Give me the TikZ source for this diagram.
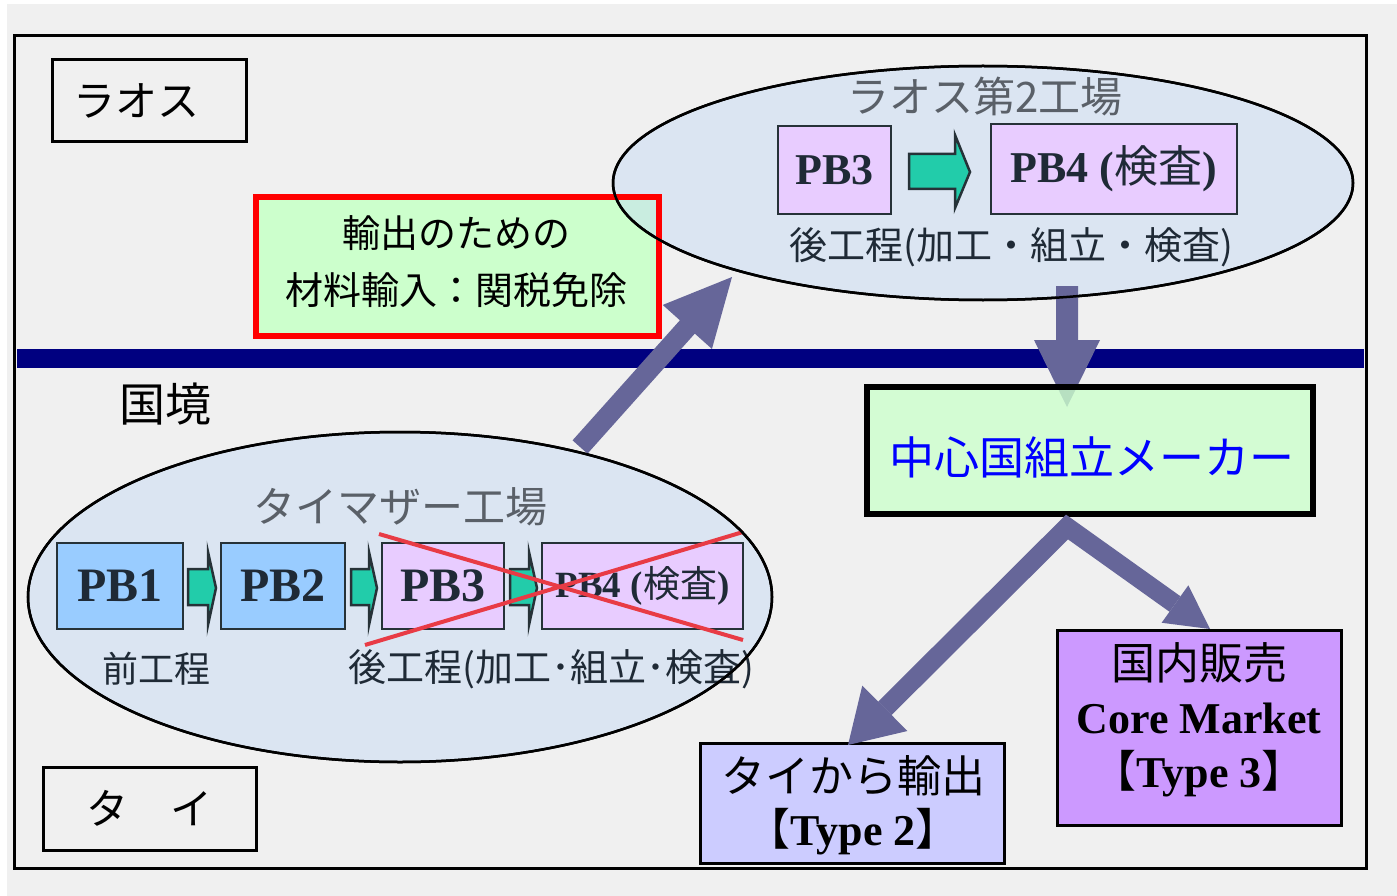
\documentclass[tikz,border=0pt]{standalone}
\usepackage{fontspec}
\setmainfont{Liberation Serif}
\newfontfamily\jp{Noto Sans CJK JP}
\usetikzlibrary{calc}
\definecolor{bgc}{HTML}{F0F0F0}
\definecolor{navyc}{HTML}{000080}
\definecolor{arrowc}{HTML}{666699}
\definecolor{tealc}{HTML}{22CCAA}
\definecolor{pbblue}{HTML}{99CCFF}
\definecolor{pbpurple}{HTML}{E8CCFF}
\definecolor{pbline}{HTML}{263238}
\definecolor{greenc}{HTML}{CCFFCC}
\definecolor{ellc}{HTML}{C8DCF4}
\definecolor{type2c}{HTML}{CCCCFF}
\definecolor{type3c}{HTML}{CC99FF}
\definecolor{redx}{HTML}{E83B45}
\definecolor{darktext}{HTML}{1F2A36}
\definecolor{graytext}{HTML}{5A6068}
\newcommand{\fs}[2]{\fontsize{#1pt}{#2pt}\selectfont}
% fat arrow: #1 start, #2 tip, #3 shaft half width, #4 head half width, #5 head length
\newcommand{\fatarrow}[5]{%
  \coordinate (fa-b) at ($(#2)!#5!(#1)$);
  \fill[arrowc] ($(#1)!#3!90:(#2)$) -- ($(fa-b)!#3!-90:(#1)$) -- ($(fa-b)!#4!-90:(#1)$) -- (#2)
     -- ($(fa-b)!#4!90:(#1)$) -- ($(fa-b)!#3!90:(#1)$) -- ($(#1)!#3!-90:(#2)$) -- cycle;}
\tikzset{
  frame/.style={draw=black, line width=3pt, inner sep=0pt},
  pbbox/.style={draw=pbline, line width=2.5pt, inner sep=0pt},
  tealarrow/.style={fill=tealc, draw=pbline, line width=2.5pt, line join=miter},
  pbtext/.style={text=darktext, font=\bfseries\fs{44}{44}},
  ellfill/.style={fill=ellc, fill opacity=0.5},
  ellline/.style={draw=black, line width=2.5pt},
}
\begin{document}
\begin{tikzpicture}[x=1pt,y=-1pt]
\useasboundingbox (0,0) rectangle (1397,896);
\fill[white] (0,0) rectangle (1397,896);
\fill[bgc] (7,4) rectangle (1397,896);
% outer frame
\node[frame, minimum width=1352pt, minimum height=832pt] (outer) at (690,452) {};
% border band
\fill[navyc] (17,349) rectangle (1364,368);
% country labels
\node[frame, minimum width=194pt, minimum height=82pt] (laosbox) at (149,101) {};
\node[font=\jp\fs{42}{42}] (laostext) at (136,101) {ラオス};
\node[frame, minimum width=213pt, minimum height=83pt] (thaibox) at (149.5,808.5) {};
\node[font=\jp\fs{42}{42}] (thaitext) at (149,808) {タ　イ};
\node[font=\jp\fs{46}{46}] (border) at (165,404) {国境};
% red box fill
\fill[greenc] (256,197) rectangle (659,336);
% ellipses
\fill[ellfill] (983,183) ellipse [x radius=370, y radius=117];
\fill[ellfill] (400,597) ellipse [x radius=372, y radius=165];
\draw[ellline] (983,183) ellipse [x radius=370, y radius=117];
\draw[ellline] (400,597) ellipse [x radius=372, y radius=165];
% red box border and text
\node[draw=red, line width=6pt, minimum width=403pt, minimum height=139pt, inner sep=0pt] (duty) at (457.5,266.5) {};
\node[font=\jp\fs{38}{57}, align=center] (dutytext) at (456,262) {輸出のための\\材料輸入：関税免除};
% Laos factory
\node[font=\jp\fs{42}{42}, text=graytext] (laostitle) at (985,97) {ラオス第2工場};
\node[pbbox, fill=pbpurple, minimum width=113pt, minimum height=88pt] (lpb3) at (834.5,170) {};
\node[pbtext] at (lpb3) {PB3};
\node[pbbox, fill=pbpurple, minimum width=246pt, minimum height=90pt] (lpb4) at (1114,169) {};
\node[pbtext] at (lpb4) {PB4 ({\jp\mdseries 検査})};
\draw[tealarrow] (909,154) -- (955,154) -- (955,135) -- (970,172) -- (955,208) -- (955,189) -- (909,189) -- cycle;
\node[font=\jp\fs{38}{38}, text=darktext] (laosproc) at (1011,247) {後工程(加工・組立・検査)};
% Thai factory
\node[font=\jp\fs{42}{42}, text=graytext] (thaititle) at (400,507) {タイマザー工場};
\node[pbbox, fill=pbblue, minimum width=126pt, minimum height=86pt] (tpb1) at (120,586) {};
\node[pbtext, font=\bfseries\fs{48}{48}] at (tpb1) {PB1};
\node[pbbox, fill=pbblue, minimum width=124pt, minimum height=86pt] (tpb2) at (283,586) {};
\node[pbtext, font=\bfseries\fs{48}{48}] at (tpb2) {PB2};
\node[pbbox, fill=pbpurple, minimum width=122pt, minimum height=86pt] (tpb3) at (443,586) {};
\node[pbtext, font=\bfseries\fs{48}{48}] at (tpb3) {PB3};
\node[pbbox, fill=pbpurple, minimum width=201pt, minimum height=86pt] (tpb4) at (642.5,586) {};
\node[pbtext, font=\bfseries\fs{37}{37}] at (tpb4) {PB4 ({\jp\mdseries 検査})};
\draw[tealarrow] (188,569) -- (208,569) -- (208,552) -- (216,588) -- (208,625) -- (208,605) -- (188,605) -- cycle;
\draw[tealarrow] (351,569) -- (369,569) -- (369,552) -- (377,588) -- (369,625) -- (369,605) -- (351,605) -- cycle;
\draw[tealarrow] (510,569) -- (529,569) -- (529,552) -- (537,588) -- (529,625) -- (529,605) -- (510,605) -- cycle;
\draw[redx, line width=4pt] (365,645) -- (743,532);
\draw[redx, line width=4pt] (379,534) -- (743,640);
\node[font=\jp\fs{36}{36}, text=darktext] (preproc) at (156,669) {前工程};
\node[font=\jp\fs{38}{38}, text=darktext] (postproc) at (551,669) {後工程(加工･組立･検査)};
% arrows
\coordinate (a1s) at (580,447);
\coordinate (a1t) at (732,277);
\fatarrow{a1s}{a1t}{10pt}{33pt}{67pt}
\coordinate (a2s) at (1067,286);
\coordinate (a2t) at (1067,407);
\fatarrow{a2s}{a2t}{11pt}{33pt}{67pt}
\draw[ellline] (983,183) ellipse [x radius=370, y radius=117];
\draw[ellline] (400,597) ellipse [x radius=372, y radius=165];
% central maker
\fill[greenc, fill opacity=0.8] (867,387) rectangle (1313,514);
\node[draw=black, line width=6pt, minimum width=446pt, minimum height=127pt, inner sep=0pt] (maker) at (1090,450.5) {};
\node[font=\jp\fs{45}{45}, text=blue] (makertext) at (1092,457) {中心国組立メーカー};
% markets
\node[frame, fill=type2c, minimum width=304pt, minimum height=120pt] (type2) at (852,803) {};
\node[font=\fs{44}{53}, align=center] (type2text) at (853,805) {{\jp タイから輸出}\\{\jp【}\textbf{Type 2}{\jp 】}};
\node[frame, fill=type3c, minimum width=284pt, minimum height=195pt] (type3) at (1199,727.5) {};
\node[font=\fs{44}{54}, align=center] (type3text) at (1199,720) {{\jp 国内販売}\\\textbf{Core Market}\\{\jp【}\textbf{Type 3}{\jp 】}};
% chevron arrow from maker
\coordinate (apex) at (1067,527);
\coordinate (t2) at (848,745);
\coordinate (t3) at (1210,629);
\coordinate (b2) at ($(t2)!52pt!(apex)$);
\coordinate (b3) at ($(t3)!43pt!(apex)$);
\draw[arrowc, line width=19pt, line join=miter] (b2) -- (apex) -- (b3);
\fill[arrowc] ($(b2)!32pt!90:(t2)$) -- (t2) -- ($(b2)!32pt!-90:(t2)$) -- cycle;
\fill[arrowc] ($(b3)!23pt!90:(t3)$) -- (t3) -- ($(b3)!23pt!-90:(t3)$) -- cycle;
\end{tikzpicture}
\end{document}
